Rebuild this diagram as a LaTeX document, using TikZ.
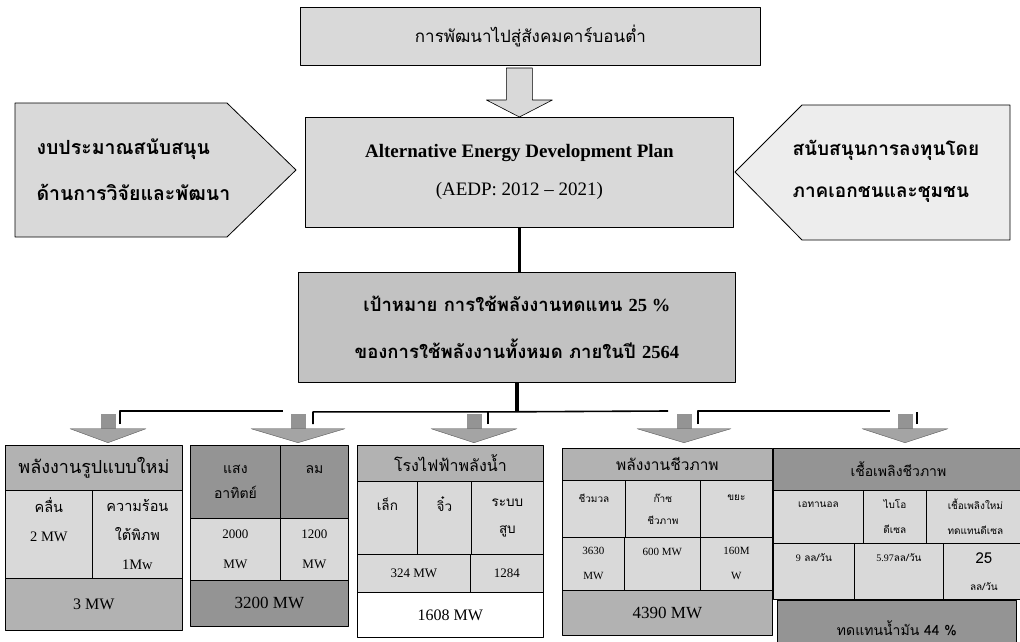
\documentclass[tikz,border=0pt]{standalone}
\usepackage{fontspec}
\setmainfont{Liberation Serif}
\newfontfamily\thaifont[Script=Thai]{Loma}
\usetikzlibrary{positioning,calc}
\definecolor{paleshade}{gray}{0.93}
\definecolor{lightshade}{gray}{0.85}
\definecolor{goalshade}{gray}{0.76}
\definecolor{midshade}{gray}{0.70}
\definecolor{darkshade}{gray}{0.58}
\newcommand\thaisize[2]{\thaifont\fontsize{#1}{#2}\selectfont}
\begin{document}
\begin{tikzpicture}[x=1pt, y=-1pt, line join=round, >=stealth, font=\thaifont,
	box/.style={draw, line width=0.8pt, inner sep=0pt, anchor=north west, align=center},
	shaft/.style={fill=darkshade, minimum size=15pt, inner sep=0pt},
	chevron/.style={fill=darkshade!85, draw=darkshade!60!black, line width=0.4pt},
	trunk/.style={line width=3.5pt},
	bus/.style={line width=1.6pt}]
	\useasboundingbox (0,0) rectangle (1020,642);
	% top part
	\node[box, fill=lightshade, minimum width=460pt, minimum height=58pt, font=\thaisize{17}{20}] (lowcarbon) at (300,7) {การพัฒนาไปสู่สังคมคาร์บอนต่ำ};
	\node[box, fill=lightshade, minimum width=428pt, minimum height=110pt, font=\rmfamily\fontsize{19}{38}\selectfont] (aedp) at (305,117) {\textbf{Alternative Energy Development Plan}\\(AEDP: 2012 -- 2021)};
	\node[box, fill=goalshade, minimum width=437pt, minimum height=110pt, font=\thaisize{18.5}{47}\bfseries] (goal) at (298,272) {เป้าหมาย การใช้พลังงานทดแทน {\rmfamily 25 \%}\\ของการใช้พลังงานทั้งหมด ภายในปี {\rmfamily 2564}};
	\draw[fill=lightshade, line width=0.8pt] (15,103) -- (227,103) -- (296,170) -- (227,237) -- (15,237) -- cycle;
	\node[anchor=west, align=left, font=\thaisize{19.5}{46}\bfseries] (budget) at (33,170) {งบประมาณสนับสนุน\\ด้านการวิจัยและพัฒนา};
	\draw[fill=paleshade, line width=0.8pt] (1010,105) -- (802,105) -- (735,172) -- (802,240) -- (1010,240) -- cycle;
	\node[anchor=west, align=left, font=\thaisize{19}{42}\bfseries] (invest) at (789,171) {สนับสนุนการลงทุนโดย\\ภาคเอกชนและชุมชน};
	% hollow arrow
	\draw[fill=lightshade, line width=0.6pt] ($(aedp.north)+(-13,-49)$) -- ++(26,0) -- ++(0,32) -- ++(20,0) -- (aedp.north) -- ++(-33,-17) -- ++(20,0) -- cycle;
	\draw[trunk] (aedp.south) -- (aedp.south |- goal.north);
	% bus to the five groups
	\coordinate (bus) at ($(goal.south)+(0,29)$);
	\draw[trunk] (goal.south) -- (bus);
	\foreach \name/\x in {t1/120,t2/313,t3/488,t4/698,t5/917} \coordinate (\name) at (\x,424);
	\coordinate (e1) at (283,411); \coordinate (e4) at (668,411); \coordinate (e5) at (890,411);
	\draw[bus] (t1) |- (e1);
	\draw[bus] (t2) |- (bus) -- (e4);
	\draw[bus] (t3) -- (t3 |- bus);
	\draw[bus] (t4) |- (e5);
	\draw[bus] (t5) -- (t5 |- bus);
	\foreach \i/\x/\w in {1/108/38,2/298/47,3/474/43,4/684/47,5/905/43}{
		\node[shaft] (shaft\i) at (\x,421) {};
		\draw[chevron] ($(shaft\i.south)+(-\w,0)$) -- ($(shaft\i.south)+(\w,0)$) -- ($(shaft\i.south)+(0,14)$) -- cycle;
	}
	% new energy
	\node[box, fill=midshade, minimum width=177pt, minimum height=45pt, font=\thaisize{18}{20}] (newtitle) at (5,445) {พลังงานรูปแบบใหม่};
	\node[box, fill=lightshade, minimum width=87pt, minimum height=88pt, font=\thaisize{14.5}{29}] (wave) at (5,490) {คลื่น\\{\rmfamily 2 MW}\\~};
	\node[box, fill=lightshade, minimum width=90pt, minimum height=88pt, font=\thaisize{14.5}{29}] (geo) at (92,490) {ความร้อน\\ใต้พิภพ\\{\rmfamily 1Mw}};
	\node[box, fill=midshade, minimum width=177pt, minimum height=52pt, font=\rmfamily\fontsize{16}{18}\selectfont] (newtotal) at (5,578) {3 MW};
	% sun and wind
	\node[box, fill=darkshade, minimum width=90pt, minimum height=73pt, font=\thaisize{14}{25}] (sun) at (190,445) {แสง\\อาทิตย์};
	\node[box, fill=darkshade, minimum width=68pt, minimum height=73pt, font=\thaisize{14}{25}] (wind) at (280,445) {ลม\\~};
	\node[box, fill=lightshade, minimum width=90pt, minimum height=62pt, font=\rmfamily\fontsize{13}{30}\selectfont] (sunmw) at (190,518) {2000\\MW};
	\node[box, fill=lightshade, minimum width=68pt, minimum height=62pt, font=\rmfamily\fontsize{13}{30}\selectfont] (windmw) at (280,518) {1200\\MW};
	\node[box, fill=darkshade, minimum width=158pt, minimum height=46pt, font=\rmfamily\fontsize{17}{20}\selectfont] (sunwindtotal) at (190,580) {3200 MW};
	% hydro
	\node[box, fill=midshade, minimum width=186pt, minimum height=36pt, font=\thaisize{16}{18}] (hydrotitle) at (357,445) {โรงไฟฟ้าพลังน้ำ};
	\node[box, fill=lightshade, minimum width=60pt, minimum height=73pt, font=\thaisize{13.5}{27}] (small) at (357,481) {เล็ก\\~};
	\node[box, fill=lightshade, minimum width=54pt, minimum height=73pt, font=\thaisize{13.5}{27}] (mini) at (417,481) {จิ๋ว\\~};
	\node[box, fill=lightshade, minimum width=72pt, minimum height=73pt, font=\thaisize{13.5}{27}] (pump) at (471,481) {ระบบ\\สูบ};
	\node[box, fill=lightshade, minimum width=113pt, minimum height=38pt, font=\rmfamily\fontsize{13}{16}\selectfont] (smallmw) at (357,554) {324 MW};
	\node[box, fill=lightshade, minimum width=73pt, minimum height=38pt, font=\rmfamily\fontsize{13}{16}\selectfont] (pumpmw) at (470,554) {1284};
	\node[box, fill=white, minimum width=186pt, minimum height=45pt, font=\rmfamily\fontsize{16}{18}\selectfont] (hydrototal) at (357,592) {1608 MW};
	% biomass
	\node[box, fill=midshade, minimum width=210pt, minimum height=32pt, font=\thaisize{15.5}{18}] (biotitle) at (562,448) {พลังงานชีวภาพ};
	\node[box, fill=lightshade, minimum width=63pt, minimum height=57pt, font=\thaisize{10}{22}] (mass) at (562,480) {ชีวมวล\\~};
	\node[box, fill=lightshade, minimum width=75pt, minimum height=57pt, font=\thaisize{10}{22}] (gas) at (625,480) {ก๊าซ\\ชีวภาพ};
	\node[box, fill=lightshade, minimum width=72pt, minimum height=57pt, font=\thaisize{10}{22}] (waste) at (700,480) {ขยะ\\~};
	\node[box, fill=lightshade, minimum width=62pt, minimum height=53pt, font=\rmfamily\fontsize{11}{25}\selectfont] (massmw) at (562,537) {3630\\MW};
	\node[box, fill=lightshade, minimum width=76pt, minimum height=53pt, font=\rmfamily\fontsize{11}{25}\selectfont] (gasmw) at (624,537) {600 MW\\~};
	\node[box, fill=lightshade, minimum width=72pt, minimum height=53pt, font=\rmfamily\fontsize{11}{25}\selectfont] (wastemw) at (700,537) {160M\\W};
	\node[box, fill=midshade, minimum width=210pt, minimum height=45pt, font=\rmfamily\fontsize{17}{20}\selectfont] (biototal) at (562,590) {4390 MW};
	% biofuel
	\node[box, fill=darkshade, minimum width=250pt, minimum height=42pt, font=\thaisize{14}{18}] (fueltitle) at (773,448) {เชื้อเพลิงชีวภาพ};
	\node[box, fill=lightshade, minimum width=90pt, minimum height=53pt, font=\thaisize{10}{25}] (ethanol) at (773,490) {เอทานอล\\~};
	\node[box, fill=lightshade, minimum width=63pt, minimum height=53pt, font=\thaisize{10}{25}] (biodiesel) at (863,490) {ไบโอ\\ดีเซล};
	\node[box, fill=lightshade, minimum width=98pt, minimum height=53pt, font=\thaisize{10}{25}] (newfuel) at (926,490) {เชื้อเพลิงใหม่\\ทดแทนดีเซล};
	\node[box, fill=lightshade, minimum width=81pt, minimum height=56pt, font=\thaisize{10}{27}] (ethanolv) at (773,543) {{\rmfamily 9} ลล/วัน\\~};
	\node[box, fill=lightshade, minimum width=89pt, minimum height=56pt, font=\thaisize{10}{27}] (biodieselv) at (854,543) {{\rmfamily 5.97}ลล/วัน\\~};
	\node[box, fill=lightshade, minimum width=81pt, minimum height=56pt, font=\thaisize{10}{27}] (newfuelv) at (943,543) {{\fontsize{15}{18}\selectfont 25}\\ลล/วัน};
	\node[box, fill=darkshade, minimum width=239pt, minimum height=56pt, font=\thaisize{14}{18}] (fueltotal) at (777,600) {ทดแทนน้ำมัน 44 \%};
\end{tikzpicture}
\end{document}
